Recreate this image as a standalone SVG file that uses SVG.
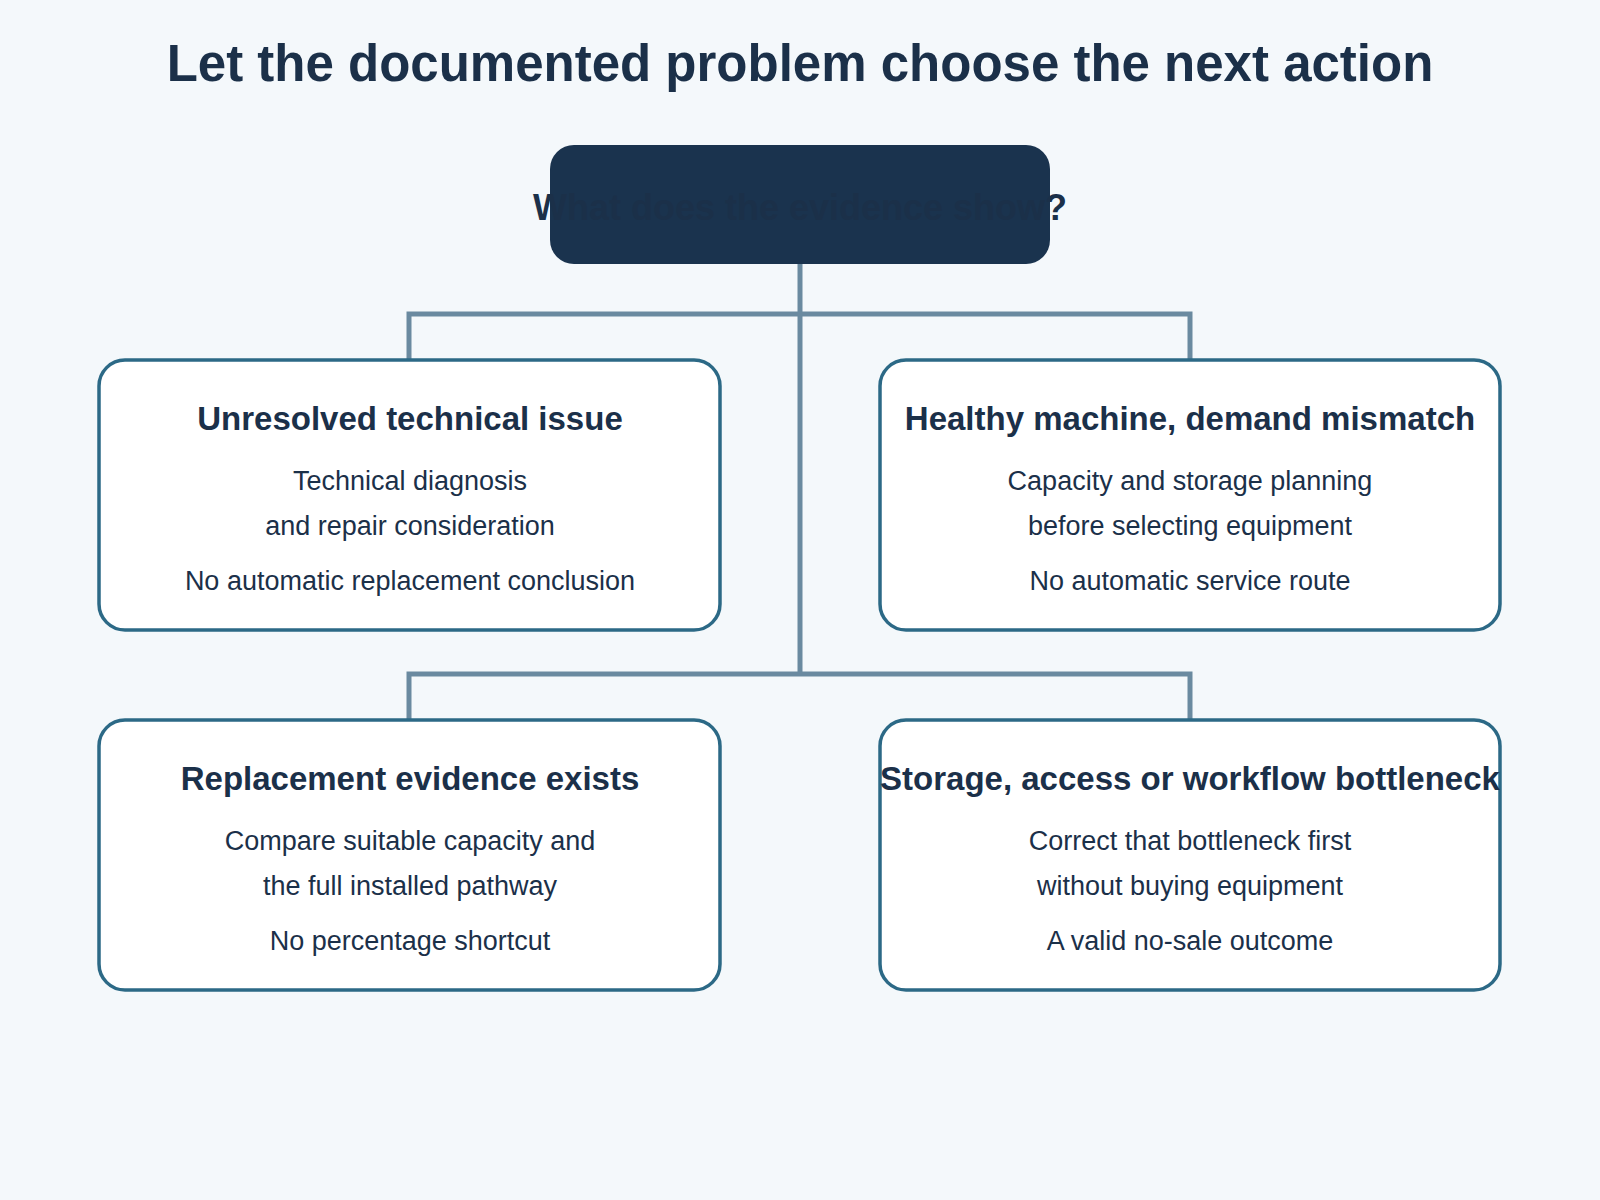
<svg xmlns="http://www.w3.org/2000/svg" width="1600" height="1200" viewBox="0 0 1600 1200">
<style>
.t{font-family:"Liberation Sans",Arial,sans-serif;text-anchor:middle;fill:#1b3049}
.h{font-weight:bold;font-size:33px}
.b{font-size:27px}
.box{fill:#fff;stroke:#2c6986;stroke-width:3.5}
.c{stroke:#6a8aa0;stroke-width:5;fill:none}
</style>
<rect width="1600" height="1200" fill="#f4f8fb"/>
<text class="t" x="800" y="81" font-size="51" font-weight="bold" fill="#1b3350">Let the documented problem choose the next action</text>
<g id="connectors">
<path class="c" d="M800 264V674M409 359V314H1190V359M409 719V674H1190V719"/>
</g>
<g id="root">
<rect x="550" y="145" width="500" height="119" rx="24" fill="#1a334e"/>
<text class="t" x="800" y="220" font-size="36" font-weight="bold" fill="#fff">What does the evidence show?</text>
</g>
<g id="n1">
<rect class="box" x="99" y="360" width="621" height="270" rx="26"/>
<text class="t h" x="410" y="430">Unresolved technical issue</text>
<text class="t b" x="410" y="490">Technical diagnosis</text>
<text class="t b" x="410" y="535">and repair consideration</text>
<text class="t b" x="410" y="590">No automatic replacement conclusion</text>
</g>
<g id="n2">
<rect class="box" x="880" y="360" width="620" height="270" rx="26"/>
<text class="t h" x="1190" y="430">Healthy machine, demand mismatch</text>
<text class="t b" x="1190" y="490">Capacity and storage planning</text>
<text class="t b" x="1190" y="535">before selecting equipment</text>
<text class="t b" x="1190" y="590">No automatic service route</text>
</g>
<g id="n3">
<rect class="box" x="99" y="720" width="621" height="270" rx="26"/>
<text class="t h" x="410" y="790">Replacement evidence exists</text>
<text class="t b" x="410" y="850">Compare suitable capacity and</text>
<text class="t b" x="410" y="895">the full installed pathway</text>
<text class="t b" x="410" y="950">No percentage shortcut</text>
</g>
<g id="n4">
<rect class="box" x="880" y="720" width="620" height="270" rx="26"/>
<text class="t h" x="1190" y="790">Storage, access or workflow bottleneck</text>
<text class="t b" x="1190" y="850">Correct that bottleneck first</text>
<text class="t b" x="1190" y="895">without buying equipment</text>
<text class="t b" x="1190" y="950">A valid no-sale outcome</text>
</g>
</svg>
